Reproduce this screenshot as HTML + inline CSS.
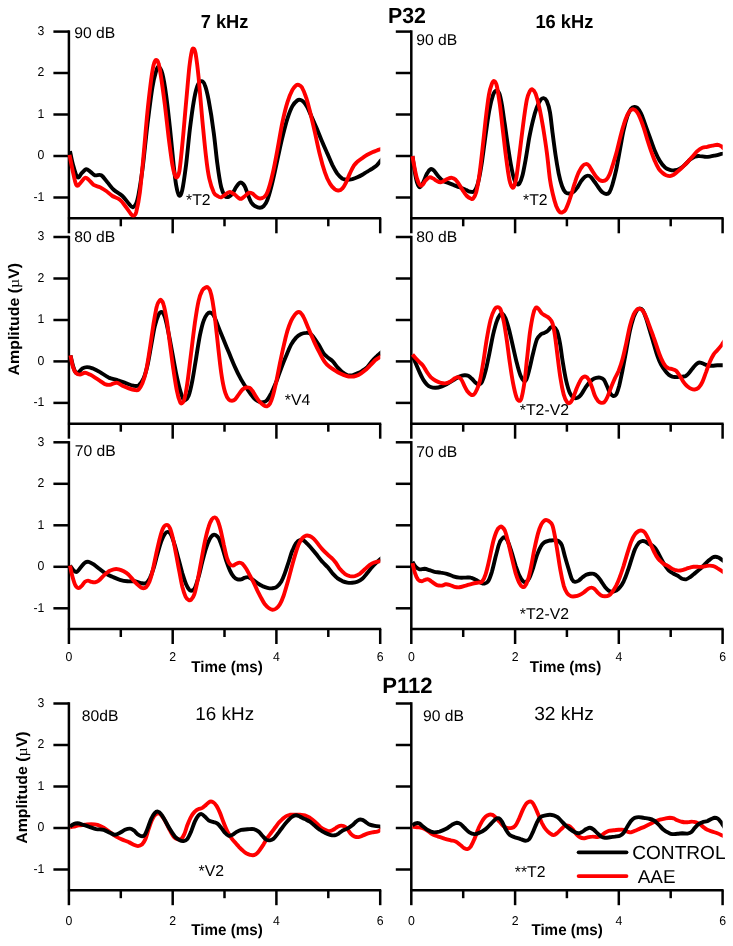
<!DOCTYPE html>
<html><head><meta charset="utf-8"><title>ABR waveforms</title>
<style>html,body{margin:0;padding:0;background:#fff}svg{display:block;will-change:transform}text{text-rendering:geometricPrecision}text{font-family:"Liberation Sans",sans-serif;fill:#000}</style></head><body>
<svg width="733" height="946" viewBox="0 0 733 946">
<rect width="733" height="946" fill="#fff"/>
<g stroke="#000" stroke-width="2.5" fill="none"><path d="M68.9 30.3V233.3"/><path d="M53.4 31.6H68.9"/><path d="M53.4 73.0H68.9"/><path d="M53.4 114.5H68.9"/><path d="M53.4 156.0H68.9"/><path d="M53.4 197.5H68.9"/><path d="M67.9 218.3H381.2"/><path d="M120.8 218.3V226.3"/><path d="M172.7 218.3V233.3"/><path d="M224.5 218.3V226.3"/><path d="M276.4 218.3V233.3"/><path d="M328.3 218.3V226.3"/><path d="M380.2 218.3V233.3"/></g><text transform="translate(44.4 35.0) scale(1 1.04)" font-size="12.3" text-anchor="end">3</text><text transform="translate(44.4 76.4) scale(1 1.04)" font-size="12.3" text-anchor="end">2</text><text transform="translate(44.4 117.9) scale(1 1.04)" font-size="12.3" text-anchor="end">1</text><text transform="translate(44.4 159.4) scale(1 1.04)" font-size="12.3" text-anchor="end">0</text><text transform="translate(44.4 200.9) scale(1 1.04)" font-size="12.3" text-anchor="end">-1</text>
<g stroke="#000" stroke-width="2.5" fill="none"><path d="M68.9 235.8V438.7"/><path d="M53.4 237.0H68.9"/><path d="M53.4 278.5H68.9"/><path d="M53.4 320.0H68.9"/><path d="M53.4 361.4H68.9"/><path d="M53.4 402.9H68.9"/><path d="M67.9 423.7H381.2"/><path d="M120.8 423.7V431.7"/><path d="M172.7 423.7V438.7"/><path d="M224.5 423.7V431.7"/><path d="M276.4 423.7V438.7"/><path d="M328.3 423.7V431.7"/><path d="M380.2 423.7V438.7"/></g><text transform="translate(44.4 240.4) scale(1 1.04)" font-size="12.3" text-anchor="end">3</text><text transform="translate(44.4 281.9) scale(1 1.04)" font-size="12.3" text-anchor="end">2</text><text transform="translate(44.4 323.4) scale(1 1.04)" font-size="12.3" text-anchor="end">1</text><text transform="translate(44.4 364.8) scale(1 1.04)" font-size="12.3" text-anchor="end">0</text><text transform="translate(44.4 406.3) scale(1 1.04)" font-size="12.3" text-anchor="end">-1</text>
<g stroke="#000" stroke-width="2.5" fill="none"><path d="M68.9 441.1V644.0"/><path d="M53.4 442.3H68.9"/><path d="M53.4 483.8H68.9"/><path d="M53.4 525.3H68.9"/><path d="M53.4 566.8H68.9"/><path d="M53.4 608.3H68.9"/><path d="M67.9 629.0H381.2"/><path d="M120.8 629.0V637.0"/><path d="M172.7 629.0V644.0"/><path d="M224.5 629.0V637.0"/><path d="M276.4 629.0V644.0"/><path d="M328.3 629.0V637.0"/><path d="M380.2 629.0V644.0"/></g><text transform="translate(44.4 445.7) scale(1 1.04)" font-size="12.3" text-anchor="end">3</text><text transform="translate(44.4 487.2) scale(1 1.04)" font-size="12.3" text-anchor="end">2</text><text transform="translate(44.4 528.7) scale(1 1.04)" font-size="12.3" text-anchor="end">1</text><text transform="translate(44.4 570.2) scale(1 1.04)" font-size="12.3" text-anchor="end">0</text><text transform="translate(44.4 611.7) scale(1 1.04)" font-size="12.3" text-anchor="end">-1</text><text transform="translate(68.9 660.8) scale(1 1.04)" font-size="12.3" text-anchor="middle">0</text><text transform="translate(172.7 660.8) scale(1 1.04)" font-size="12.3" text-anchor="middle">2</text><text transform="translate(276.4 660.8) scale(1 1.04)" font-size="12.3" text-anchor="middle">4</text><text transform="translate(380.2 660.8) scale(1 1.04)" font-size="12.3" text-anchor="middle">6</text>
<g stroke="#000" stroke-width="2.5" fill="none"><path d="M68.9 702.2V905.2"/><path d="M53.4 703.5H68.9"/><path d="M53.4 745.0H68.9"/><path d="M53.4 786.5H68.9"/><path d="M53.4 828.0H68.9"/><path d="M53.4 869.5H68.9"/><path d="M67.9 890.2H381.2"/><path d="M120.8 890.2V898.2"/><path d="M172.7 890.2V905.2"/><path d="M224.5 890.2V898.2"/><path d="M276.4 890.2V905.2"/><path d="M328.3 890.2V898.2"/><path d="M380.2 890.2V905.2"/></g><text transform="translate(44.4 706.9) scale(1 1.04)" font-size="12.3" text-anchor="end">3</text><text transform="translate(44.4 748.4) scale(1 1.04)" font-size="12.3" text-anchor="end">2</text><text transform="translate(44.4 789.9) scale(1 1.04)" font-size="12.3" text-anchor="end">1</text><text transform="translate(44.4 831.4) scale(1 1.04)" font-size="12.3" text-anchor="end">0</text><text transform="translate(44.4 872.9) scale(1 1.04)" font-size="12.3" text-anchor="end">-1</text><text transform="translate(68.9 924.6) scale(1 1.04)" font-size="12.3" text-anchor="middle">0</text><text transform="translate(172.7 924.6) scale(1 1.04)" font-size="12.3" text-anchor="middle">2</text><text transform="translate(276.4 924.6) scale(1 1.04)" font-size="12.3" text-anchor="middle">4</text><text transform="translate(380.2 924.6) scale(1 1.04)" font-size="12.3" text-anchor="middle">6</text>
<g stroke="#000" stroke-width="2.5" fill="none"><path d="M411.3 30.3V233.3"/><path d="M395.8 31.6H411.3"/><path d="M395.8 73.0H411.3"/><path d="M395.8 114.5H411.3"/><path d="M395.8 156.0H411.3"/><path d="M395.8 197.5H411.3"/><path d="M410.3 218.3H723.6"/><path d="M463.2 218.3V226.3"/><path d="M515.1 218.3V233.3"/><path d="M566.9 218.3V226.3"/><path d="M618.8 218.3V233.3"/><path d="M670.7 218.3V226.3"/><path d="M722.6 218.3V233.3"/></g>
<g stroke="#000" stroke-width="2.5" fill="none"><path d="M411.3 235.8V438.7"/><path d="M395.8 237.0H411.3"/><path d="M395.8 278.5H411.3"/><path d="M395.8 320.0H411.3"/><path d="M395.8 361.4H411.3"/><path d="M395.8 402.9H411.3"/><path d="M410.3 423.7H723.6"/><path d="M463.2 423.7V431.7"/><path d="M515.1 423.7V438.7"/><path d="M566.9 423.7V431.7"/><path d="M618.8 423.7V438.7"/><path d="M670.7 423.7V431.7"/><path d="M722.6 423.7V438.7"/></g>
<g stroke="#000" stroke-width="2.5" fill="none"><path d="M411.3 441.1V644.0"/><path d="M395.8 442.3H411.3"/><path d="M395.8 483.8H411.3"/><path d="M395.8 525.3H411.3"/><path d="M395.8 566.8H411.3"/><path d="M395.8 608.3H411.3"/><path d="M410.3 629.0H723.6"/><path d="M463.2 629.0V637.0"/><path d="M515.1 629.0V644.0"/><path d="M566.9 629.0V637.0"/><path d="M618.8 629.0V644.0"/><path d="M670.7 629.0V637.0"/><path d="M722.6 629.0V644.0"/></g><text transform="translate(411.3 660.8) scale(1 1.04)" font-size="12.3" text-anchor="middle">0</text><text transform="translate(515.1 660.8) scale(1 1.04)" font-size="12.3" text-anchor="middle">2</text><text transform="translate(618.8 660.8) scale(1 1.04)" font-size="12.3" text-anchor="middle">4</text><text transform="translate(722.6 660.8) scale(1 1.04)" font-size="12.3" text-anchor="middle">6</text>
<g stroke="#000" stroke-width="2.5" fill="none"><path d="M411.3 702.2V905.2"/><path d="M395.8 703.5H411.3"/><path d="M395.8 745.0H411.3"/><path d="M395.8 786.5H411.3"/><path d="M395.8 828.0H411.3"/><path d="M395.8 869.5H411.3"/><path d="M410.3 890.2H723.6"/><path d="M463.2 890.2V898.2"/><path d="M515.1 890.2V905.2"/><path d="M566.9 890.2V898.2"/><path d="M618.8 890.2V905.2"/><path d="M670.7 890.2V898.2"/><path d="M722.6 890.2V905.2"/></g><text transform="translate(411.3 924.6) scale(1 1.04)" font-size="12.3" text-anchor="middle">0</text><text transform="translate(515.1 924.6) scale(1 1.04)" font-size="12.3" text-anchor="middle">2</text><text transform="translate(618.8 924.6) scale(1 1.04)" font-size="12.3" text-anchor="middle">4</text><text transform="translate(722.6 924.6) scale(1 1.04)" font-size="12.3" text-anchor="middle">6</text>
<defs><clipPath id="cl"><rect x="0" y="0" width="380.3" height="946"/></clipPath><clipPath id="cr"><rect x="0" y="0" width="722.7" height="946"/></clipPath></defs>
<path d="M70.0 151.1C70.5 153.4 71.7 160.4 73.0 164.8C74.2 169.2 76.0 176.0 77.5 177.3C79.0 178.6 80.5 174.1 82.0 172.8C83.4 171.5 84.8 169.5 86.2 169.3C87.6 169.1 89.0 170.8 90.5 171.8C91.9 172.8 93.2 174.7 95.0 175.3C96.7 175.9 99.1 174.1 101.2 175.3C103.3 176.5 105.4 179.9 107.4 182.3C109.5 184.7 111.2 187.5 113.7 189.8C116.2 192.1 119.9 193.7 122.4 196.0C124.9 198.3 126.9 201.6 128.7 203.5C130.4 205.4 131.5 207.9 132.9 207.3C134.4 206.6 135.8 206.0 137.4 199.8C139.0 193.5 140.7 182.3 142.4 169.8C144.1 157.3 145.7 138.6 147.4 124.9C149.1 111.1 150.9 96.4 152.4 87.4C153.8 78.5 155.1 74.6 156.1 71.2C157.2 67.8 157.6 66.5 158.6 66.9C159.7 67.4 161.1 69.0 162.4 73.7C163.6 78.3 164.9 86.0 166.1 94.9C167.4 103.9 168.6 115.7 169.9 127.4C171.1 139.0 172.6 155.2 173.6 164.8C174.6 174.4 175.2 179.7 176.1 184.8C177.0 189.9 178.1 194.7 179.1 195.5C180.1 196.4 181.2 194.9 182.3 189.8C183.5 184.7 184.8 174.8 186.1 164.8C187.3 154.8 188.6 140.3 189.8 129.9C191.1 119.5 192.3 109.7 193.6 102.4C194.8 95.1 196.1 89.7 197.3 86.2C198.6 82.6 199.8 81.4 201.1 81.2C202.3 81.0 203.6 81.8 204.8 84.9C206.1 88.0 207.1 92.0 208.6 99.9C210.1 107.8 212.3 121.5 213.7 132.4C215.2 143.2 216.2 155.7 217.5 164.8C218.7 174.0 220.0 182.1 221.2 187.3C222.5 192.5 223.7 194.4 225.0 196.0C226.2 197.6 227.5 197.2 228.7 196.8C230.0 196.4 231.3 195.1 232.5 193.5C233.7 192.0 235.0 188.9 236.0 187.3C237.0 185.7 237.7 184.6 238.5 183.8C239.3 183.0 240.0 182.5 240.7 182.5C241.5 182.5 242.2 183.0 243.0 183.8C243.7 184.6 244.4 185.5 245.2 187.3C246.0 189.1 247.0 192.3 248.0 194.8C249.0 197.3 250.0 200.4 251.2 202.3C252.4 204.1 253.5 205.1 254.9 206.0C256.4 206.9 258.5 207.8 259.9 207.8C261.4 207.8 262.4 207.3 263.7 206.0C264.9 204.7 266.0 203.7 267.4 199.8C268.9 195.8 270.8 189.0 272.4 182.3C274.1 175.6 275.8 167.3 277.4 159.8C279.1 152.3 280.7 144.2 282.4 137.4C284.1 130.5 285.7 123.8 287.4 118.6C289.1 113.4 290.7 109.2 292.4 106.1C294.1 103.1 296.1 101.4 297.4 100.4C298.7 99.4 299.3 99.7 300.4 99.9C301.4 100.1 302.5 100.6 303.6 101.9C304.8 103.1 305.9 104.6 307.4 107.4C308.8 110.2 310.7 114.9 312.4 118.6C314.0 122.4 315.7 125.9 317.4 129.9C319.0 133.8 320.7 138.4 322.4 142.3C324.0 146.3 325.7 149.8 327.4 153.6C329.0 157.3 330.7 161.5 332.3 164.8C334.0 168.1 335.7 171.3 337.3 173.6C339.0 175.8 340.7 177.5 342.3 178.6C344.0 179.6 345.7 179.7 347.3 179.8C349.0 179.9 350.7 179.5 352.3 179.1C354.0 178.6 355.7 178.0 357.3 177.3C359.0 176.6 360.6 175.8 362.3 174.8C364.0 173.8 365.6 172.6 367.3 171.6C369.0 170.5 370.6 169.7 372.3 168.6C374.0 167.4 375.9 166.2 377.3 164.8C378.7 163.5 379.7 161.9 380.8 160.6C381.9 159.3 383.3 157.5 383.8 156.9" fill="none" stroke="#000" stroke-width="3.9" stroke-linejoin="round" clip-path="url(#cl)"/>
<path d="M69.5 154.8C70.0 157.3 71.4 164.8 72.5 169.8C73.6 174.8 75.0 182.5 76.2 184.8C77.5 187.1 78.5 184.7 80.0 183.5C81.4 182.4 83.5 178.4 85.0 177.8C86.4 177.2 87.3 178.6 88.7 179.8C90.2 181.0 91.8 183.5 93.7 184.8C95.6 186.0 97.9 186.3 100.0 187.3C102.0 188.3 104.1 189.6 106.2 191.0C108.3 192.5 110.1 194.6 112.4 196.0C114.7 197.5 117.6 197.9 119.9 199.8C122.2 201.6 124.3 204.9 126.2 207.3C128.0 209.7 129.9 212.9 131.2 214.3C132.4 215.6 132.8 215.8 133.7 215.5C134.5 215.2 135.1 216.1 136.2 212.3C137.2 208.4 138.7 201.9 139.9 192.3C141.1 182.7 142.4 168.1 143.6 154.8C144.9 141.5 146.1 124.9 147.4 112.4C148.6 99.9 150.1 87.8 151.1 79.9C152.2 72.0 152.8 68.3 153.6 64.9C154.5 61.6 155.3 60.2 156.1 60.0C157.0 59.7 157.8 60.8 158.6 63.7C159.5 66.6 160.1 70.6 161.1 77.4C162.2 84.3 163.6 94.9 164.9 104.9C166.1 114.9 167.4 127.4 168.6 137.4C169.9 147.3 171.3 158.6 172.4 164.8C173.4 171.1 174.1 172.7 174.9 174.8C175.6 176.9 176.1 177.9 176.9 177.3C177.6 176.7 178.4 176.5 179.4 171.1C180.3 165.7 181.2 156.3 182.3 144.8C183.5 133.4 184.9 115.3 186.1 102.4C187.3 89.5 188.4 76.0 189.3 67.4C190.3 58.9 191.1 54.3 191.8 51.2C192.5 48.1 193.0 48.3 193.6 48.7C194.2 49.1 194.7 48.9 195.6 53.7C196.4 58.5 197.5 66.4 198.6 77.4C199.7 88.5 201.1 106.6 202.3 119.9C203.6 133.2 204.9 147.5 206.1 157.3C207.2 167.1 208.0 172.7 209.3 178.6C210.6 184.4 212.4 189.4 213.7 192.3C215.1 195.2 216.2 195.2 217.5 196.0C218.7 196.9 220.0 197.5 221.2 197.3C222.5 197.1 223.7 195.6 225.0 194.8C226.2 193.9 227.7 192.7 228.7 192.3C229.8 191.9 230.2 191.9 231.2 192.3C232.3 192.7 233.7 193.8 235.0 194.8C236.2 195.7 237.7 197.4 238.7 198.0C239.8 198.7 240.2 199.1 241.2 198.8C242.3 198.4 243.7 197.0 245.0 196.0C246.2 195.0 247.5 193.2 248.7 192.8C250.0 192.4 251.2 192.9 252.4 193.5C253.7 194.2 254.9 195.9 256.2 196.8C257.4 197.6 258.7 198.4 259.9 198.5C261.2 198.6 262.4 198.3 263.7 197.3C264.9 196.2 266.0 196.0 267.4 192.3C268.9 188.5 270.8 181.9 272.4 174.8C274.1 167.7 275.8 158.6 277.4 149.8C279.1 141.1 280.7 130.3 282.4 122.4C284.1 114.5 285.7 107.8 287.4 102.4C289.1 97.0 290.9 92.7 292.4 89.9C293.9 87.1 295.1 86.3 296.1 85.4C297.2 84.6 297.7 84.6 298.6 84.9C299.6 85.3 300.6 85.3 301.9 87.4C303.1 89.5 304.8 93.4 306.1 97.4C307.5 101.4 308.4 105.3 309.9 111.1C311.3 117.0 313.2 125.1 314.9 132.4C316.5 139.6 318.2 148.2 319.9 154.8C321.5 161.5 323.2 167.5 324.9 172.3C326.5 177.1 328.2 180.7 329.9 183.5C331.5 186.4 333.4 188.1 334.8 189.3C336.3 190.5 337.3 190.7 338.6 190.5C339.8 190.4 341.1 189.9 342.3 188.5C343.6 187.2 344.8 184.8 346.1 182.3C347.3 179.8 348.6 176.3 349.8 173.6C351.1 170.9 352.3 168.0 353.6 166.1C354.8 164.1 355.9 163.2 357.3 161.8C358.8 160.5 360.6 159.2 362.3 158.1C364.0 156.9 365.6 155.8 367.3 154.8C369.0 153.9 370.6 153.1 372.3 152.3C374.0 151.6 375.9 150.9 377.3 150.3C378.7 149.8 379.7 149.5 380.8 149.1C381.9 148.7 383.3 148.2 383.8 148.0" fill="none" stroke="#ff0000" stroke-width="3.9" stroke-linejoin="round" clip-path="url(#cl)"/>
<path d="M70.5 355.3C70.9 357.1 72.1 362.9 73.0 365.8C73.9 368.7 75.0 371.8 76.0 372.8C76.9 373.9 77.6 372.8 78.7 372.1C79.8 371.3 81.1 369.2 82.5 368.3C83.8 367.5 85.3 367.1 87.0 367.1C88.6 367.1 90.3 367.5 92.5 368.3C94.6 369.2 97.2 370.5 100.0 372.1C102.7 373.6 105.8 376.2 108.7 377.6C111.6 378.9 114.5 379.1 117.4 380.1C120.3 381.0 123.5 382.3 126.2 383.3C128.9 384.3 131.6 385.5 133.7 385.8C135.7 386.1 137.0 386.5 138.7 385.3C140.3 384.1 142.2 381.6 143.6 378.3C145.1 375.1 146.1 371.2 147.4 365.8C148.6 360.4 149.9 352.5 151.1 345.9C152.4 339.2 153.6 331.1 154.9 325.9C156.1 320.7 157.5 316.9 158.6 314.6C159.8 312.4 160.8 311.7 161.9 312.1C162.9 312.6 163.7 313.6 164.9 317.1C166.0 320.7 167.4 327.3 168.6 333.4C169.9 339.4 171.1 346.7 172.4 353.3C173.6 360.0 174.9 367.3 176.1 373.3C177.4 379.3 178.7 385.3 179.9 389.5C181.0 393.8 182.2 397.0 183.1 398.8C184.0 400.5 184.4 400.5 185.3 400.0C186.3 399.5 187.4 399.0 188.6 395.8C189.8 392.6 191.1 387.0 192.3 380.8C193.6 374.6 194.8 365.8 196.1 358.3C197.3 350.8 198.6 342.1 199.8 335.9C201.1 329.6 202.3 324.5 203.6 320.9C204.8 317.2 206.2 315.3 207.3 313.9C208.5 312.5 209.5 312.4 210.6 312.6C211.6 312.9 212.6 313.4 213.7 315.4C214.9 317.4 216.0 321.0 217.5 324.6C218.9 328.2 220.6 332.5 222.5 337.1C224.4 341.7 226.6 347.1 228.7 352.1C230.8 357.1 232.9 362.5 235.0 367.1C237.0 371.7 239.1 375.8 241.2 379.6C243.3 383.3 245.4 386.5 247.5 389.5C249.5 392.6 251.8 395.8 253.7 397.8C255.6 399.8 257.1 400.8 258.7 401.5C260.2 402.3 261.6 402.5 262.9 402.3C264.3 402.1 265.6 401.8 266.9 400.3C268.3 398.8 269.6 396.3 271.2 393.3C272.7 390.3 274.5 386.2 276.2 382.1C277.8 377.9 279.5 372.7 281.2 368.3C282.8 364.0 284.5 359.8 286.2 355.8C287.8 351.9 289.5 347.6 291.1 344.6C292.8 341.6 294.5 339.4 296.1 337.6C297.8 335.9 299.5 334.9 301.1 334.1C302.8 333.3 304.7 333.0 306.1 332.9C307.6 332.7 308.6 332.7 309.9 333.4C311.1 334.1 312.2 335.2 313.6 337.1C315.1 339.0 316.9 341.9 318.6 344.6C320.3 347.3 322.2 351.3 323.6 353.3C325.1 355.4 325.9 355.8 327.4 357.1C328.8 358.3 330.7 359.2 332.3 360.8C334.0 362.5 335.7 365.2 337.3 367.1C339.0 368.9 340.7 370.7 342.3 372.1C344.0 373.4 345.7 374.5 347.3 375.1C349.0 375.6 350.7 375.6 352.3 375.3C354.0 375.0 355.7 374.1 357.3 373.3C359.0 372.6 360.6 371.9 362.3 370.8C364.0 369.8 365.6 368.7 367.3 367.1C369.0 365.4 370.6 362.7 372.3 360.8C374.0 359.0 375.9 357.2 377.3 355.8C378.7 354.5 379.7 353.8 380.8 352.8C381.9 351.9 383.3 350.7 383.8 350.3" fill="none" stroke="#000" stroke-width="3.9" stroke-linejoin="round" clip-path="url(#cl)"/>
<path d="M70.5 355.3C70.9 357.3 72.0 364.1 73.0 367.1C73.9 370.1 75.1 372.1 76.2 373.3C77.4 374.6 78.5 374.6 80.0 374.6C81.4 374.5 83.3 372.8 85.0 372.8C86.6 372.8 88.3 373.8 90.0 374.6C91.6 375.4 93.3 376.5 95.0 377.6C96.6 378.6 98.3 379.7 100.0 380.8C101.6 381.9 103.3 383.4 104.9 384.1C106.6 384.7 108.5 384.9 109.9 384.8C111.4 384.7 112.4 383.6 113.7 383.3C114.9 383.0 116.0 382.4 117.4 382.8C118.9 383.2 120.5 384.9 122.4 385.8C124.3 386.7 126.6 387.6 128.7 388.3C130.7 389.0 133.2 389.8 134.9 390.0C136.6 390.3 137.4 390.7 138.7 389.5C139.9 388.4 141.1 386.4 142.4 383.3C143.6 380.2 144.9 376.6 146.1 370.8C147.4 365.0 148.6 356.3 149.9 348.3C151.1 340.4 152.5 330.5 153.6 323.4C154.8 316.3 155.9 309.6 156.9 305.9C157.8 302.2 158.7 301.9 159.4 300.9C160.1 299.9 160.4 299.5 161.1 300.2C161.8 300.8 162.7 301.2 163.6 304.7C164.6 308.1 165.8 314.4 166.9 320.9C167.9 327.3 168.7 335.0 169.9 343.4C171.0 351.7 172.4 362.9 173.6 370.8C174.8 378.7 175.8 385.7 176.9 390.8C177.9 395.9 179.0 399.4 179.9 401.5C180.7 403.6 181.1 403.6 181.8 403.3C182.6 402.9 183.4 402.9 184.3 399.5C185.3 396.2 186.2 391.0 187.3 383.3C188.5 375.6 189.8 363.3 191.1 353.3C192.3 343.4 193.6 332.1 194.8 323.4C196.1 314.6 197.3 306.4 198.6 300.9C199.8 295.4 201.1 292.7 202.3 290.4C203.6 288.1 205.2 287.7 206.1 287.2C207.0 286.7 207.2 286.9 207.8 287.4C208.5 288.0 209.2 288.2 210.0 290.4C210.8 292.7 211.7 296.2 212.5 300.9C213.3 305.6 214.2 311.7 215.0 318.4C215.8 325.0 216.7 333.4 217.5 340.9C218.3 348.3 219.2 356.7 220.0 363.3C220.8 370.0 221.6 375.8 222.5 380.8C223.4 385.8 224.4 390.2 225.5 393.3C226.5 396.4 227.6 398.3 228.7 399.5C229.8 400.8 230.9 400.8 232.0 400.8C233.0 400.8 233.8 400.6 235.0 399.5C236.1 398.5 237.5 396.2 238.7 394.5C240.0 392.9 241.2 390.7 242.5 389.5C243.7 388.4 245.0 387.8 246.2 387.5C247.4 387.3 248.4 387.3 249.5 387.8C250.5 388.3 251.3 389.3 252.4 390.8C253.6 392.3 254.9 395.2 256.2 397.0C257.4 398.9 258.7 400.7 259.9 402.0C261.2 403.4 262.5 404.6 263.7 405.3C264.8 406.0 265.9 406.5 266.9 406.3C268.0 406.0 268.9 405.5 269.9 403.8C270.9 402.0 271.9 399.4 272.9 395.8C274.0 392.2 275.0 387.5 276.2 382.1C277.3 376.6 278.7 369.4 279.9 363.3C281.2 357.3 282.4 351.3 283.7 345.9C284.9 340.4 286.2 335.0 287.4 330.9C288.7 326.7 289.9 323.6 291.1 320.9C292.4 318.2 293.8 316.1 294.9 314.6C296.0 313.2 297.0 312.5 297.9 312.1C298.8 311.8 299.4 311.8 300.4 312.6C301.3 313.5 302.5 314.9 303.6 317.1C304.8 319.3 306.1 323.0 307.4 325.9C308.6 328.8 309.9 331.7 311.1 334.6C312.4 337.5 313.4 340.2 314.9 343.4C316.3 346.5 318.2 350.2 319.9 353.3C321.5 356.5 323.2 359.8 324.9 362.1C326.5 364.4 328.2 365.7 329.9 367.1C331.5 368.4 333.2 369.3 334.8 370.3C336.5 371.4 338.0 372.4 339.8 373.3C341.7 374.2 344.2 375.3 346.1 375.8C348.0 376.4 349.4 376.6 351.1 376.6C352.7 376.6 354.4 376.4 356.1 375.8C357.7 375.3 359.4 374.4 361.1 373.3C362.7 372.3 364.4 371.0 366.1 369.6C367.7 368.1 369.4 366.2 371.0 364.6C372.7 362.9 374.4 360.9 376.0 359.6C377.7 358.3 379.5 357.4 380.8 356.6C382.1 355.8 383.3 355.0 383.8 354.7" fill="none" stroke="#ff0000" stroke-width="3.9" stroke-linejoin="round" clip-path="url(#cl)"/>
<path d="M70.0 565.6C70.6 566.4 72.6 569.5 73.7 570.6C74.9 571.6 75.7 572.4 77.0 571.8C78.2 571.2 79.9 568.4 81.2 566.8C82.6 565.3 83.7 563.4 85.0 562.6C86.2 561.8 87.3 561.5 88.7 561.8C90.2 562.1 91.8 563.1 93.7 564.3C95.6 565.6 97.9 567.7 100.0 569.3C102.0 570.9 104.1 572.6 106.2 573.8C108.3 575.1 110.1 575.8 112.4 576.8C114.7 577.8 117.4 579.1 119.9 579.8C122.4 580.6 124.9 581.1 127.4 581.3C129.9 581.6 132.6 581.0 134.9 581.3C137.2 581.6 139.3 582.8 141.1 583.1C143.0 583.4 144.7 583.9 146.1 583.1C147.6 582.2 148.6 580.6 149.9 578.1C151.1 575.6 152.4 572.0 153.6 568.1C154.9 564.1 156.1 558.7 157.4 554.3C158.6 550.0 159.9 545.3 161.1 541.9C162.4 538.5 163.7 535.5 164.9 533.9C166.0 532.2 166.8 531.7 167.9 531.9C168.9 532.0 169.9 532.6 171.1 534.9C172.3 537.2 173.6 541.5 174.9 545.6C176.1 549.7 177.4 554.8 178.6 559.3C179.9 563.9 181.1 568.9 182.3 573.1C183.6 577.2 184.9 581.5 186.1 584.3C187.3 587.1 188.4 588.8 189.3 589.8C190.3 590.8 190.9 590.8 191.8 590.6C192.8 590.3 193.7 590.3 194.8 588.1C196.0 585.8 197.3 581.2 198.6 576.8C199.8 572.4 201.1 566.6 202.3 561.8C203.6 557.1 204.8 551.9 206.1 548.1C207.3 544.3 208.7 541.0 209.8 538.9C210.9 536.7 211.9 535.8 212.8 535.1C213.7 534.5 214.3 534.4 215.3 534.9C216.3 535.4 217.5 535.9 218.7 538.1C219.9 540.3 221.2 544.4 222.5 548.1C223.7 551.9 225.0 556.8 226.2 560.6C227.5 564.3 228.7 567.9 230.0 570.6C231.2 573.3 232.5 575.4 233.7 576.8C235.0 578.3 236.2 578.9 237.5 579.3C238.7 579.7 240.0 579.6 241.2 579.3C242.5 579.0 243.7 577.9 245.0 577.6C246.2 577.2 247.5 577.0 248.7 577.3C250.0 577.6 251.0 578.4 252.4 579.3C253.9 580.3 255.8 581.9 257.4 583.1C259.1 584.2 260.8 585.3 262.4 586.1C264.1 586.8 265.8 587.4 267.4 587.8C269.1 588.2 270.8 588.5 272.4 588.3C274.0 588.1 275.5 587.9 276.9 586.8C278.4 585.7 279.8 584.1 281.2 581.8C282.5 579.5 283.7 576.4 284.9 573.1C286.2 569.7 287.4 565.6 288.7 561.8C289.9 558.1 291.1 553.7 292.4 550.6C293.6 547.5 294.9 544.9 296.1 543.1C297.4 541.4 298.6 540.5 299.9 540.1C301.1 539.7 302.4 540.0 303.6 540.6C304.9 541.2 305.9 542.4 307.4 543.9C308.8 545.3 310.7 547.4 312.4 549.4C314.0 551.3 315.7 553.5 317.4 555.6C319.0 557.7 320.7 560.0 322.4 561.8C324.0 563.7 325.7 565.0 327.4 566.8C329.0 568.7 330.7 571.2 332.3 573.1C334.0 574.9 335.7 576.7 337.3 578.1C339.0 579.4 340.7 580.3 342.3 581.1C344.0 581.8 345.7 582.3 347.3 582.6C349.0 582.9 350.7 582.9 352.3 582.8C354.0 582.7 355.7 582.5 357.3 581.8C359.0 581.1 360.6 580.3 362.3 578.8C364.0 577.4 365.6 575.1 367.3 573.1C369.0 571.1 370.6 568.7 372.3 566.8C374.0 565.0 375.9 563.2 377.3 561.8C378.7 560.5 379.7 559.8 380.8 558.8C381.9 557.9 383.3 556.7 383.8 556.3" fill="none" stroke="#000" stroke-width="3.9" stroke-linejoin="round" clip-path="url(#cl)"/>
<path d="M70.0 565.6C70.4 567.5 71.6 573.5 72.5 576.8C73.4 580.1 74.4 583.7 75.5 585.6C76.5 587.4 77.6 588.1 78.7 588.1C79.8 588.1 80.9 586.6 82.0 585.6C83.0 584.5 84.0 582.6 85.0 581.8C86.0 581.0 86.9 580.6 88.0 580.6C89.0 580.6 90.0 581.5 91.2 581.8C92.4 582.1 93.7 582.5 95.0 582.3C96.2 582.1 97.2 581.7 98.7 580.6C100.2 579.4 102.0 577.1 103.7 575.6C105.4 574.0 107.0 572.4 108.7 571.3C110.4 570.3 112.0 569.7 113.7 569.3C115.3 569.0 117.0 569.0 118.7 569.3C120.3 569.7 122.0 570.4 123.7 571.3C125.3 572.2 127.0 573.3 128.7 574.8C130.3 576.4 132.0 578.8 133.7 580.6C135.3 582.4 137.2 584.3 138.7 585.6C140.1 586.8 141.1 587.8 142.4 588.1C143.6 588.3 145.0 588.3 146.1 587.3C147.3 586.3 148.3 584.4 149.4 581.8C150.4 579.2 151.3 576.4 152.4 571.8C153.5 567.2 154.9 560.0 156.1 554.3C157.4 548.7 158.7 542.5 159.9 538.1C161.0 533.7 162.0 530.3 163.1 528.1C164.3 525.9 165.7 524.9 166.9 524.9C168.0 524.9 168.9 525.9 169.9 528.1C170.9 530.3 171.8 533.7 172.9 538.1C173.9 542.5 175.0 548.7 176.1 554.3C177.2 560.0 178.3 566.4 179.4 571.8C180.4 577.2 181.3 582.6 182.3 586.8C183.4 591.0 184.6 594.6 185.6 596.8C186.6 599.0 187.7 599.5 188.6 600.0C189.5 600.5 190.1 600.7 191.1 599.8C192.0 598.8 193.3 597.3 194.3 594.3C195.4 591.3 196.2 587.2 197.3 581.8C198.5 576.4 199.8 568.5 201.1 561.8C202.3 555.2 203.6 547.7 204.8 541.9C206.1 536.0 207.4 530.6 208.6 526.9C209.7 523.1 210.8 521.0 211.8 519.4C212.9 517.8 213.9 517.3 214.8 517.4C215.8 517.5 216.5 518.1 217.5 520.1C218.4 522.1 219.4 525.3 220.5 529.4C221.5 533.4 222.7 539.6 223.7 544.4C224.8 549.1 225.9 554.8 227.0 558.1C228.0 561.4 229.0 563.1 230.0 564.3C231.0 565.6 231.9 565.7 233.0 565.6C234.0 565.5 235.1 564.3 236.2 563.8C237.3 563.3 238.4 562.6 239.5 562.6C240.5 562.6 241.3 562.8 242.5 563.8C243.6 564.9 245.0 566.9 246.2 568.8C247.5 570.8 248.7 573.3 250.0 575.6C251.2 577.9 252.4 580.1 253.7 582.6C254.9 585.1 256.2 588.0 257.4 590.6C258.7 593.1 259.9 595.8 261.2 598.0C262.4 600.3 263.7 602.6 264.9 604.3C266.2 605.9 267.4 607.1 268.7 608.0C269.9 608.9 271.2 609.7 272.4 609.8C273.7 609.9 274.9 609.4 276.2 608.5C277.4 607.6 278.7 606.4 279.9 604.3C281.2 602.1 282.4 599.1 283.7 595.5C284.9 592.0 286.2 587.4 287.4 583.1C288.7 578.7 289.9 573.9 291.1 569.3C292.4 564.8 293.6 559.8 294.9 555.6C296.1 551.4 297.4 547.3 298.6 544.4C299.9 541.4 301.1 539.6 302.4 538.1C303.6 536.7 304.9 536.0 306.1 535.6C307.4 535.3 308.6 535.6 309.9 536.1C311.1 536.6 312.4 537.5 313.6 538.6C314.9 539.8 315.9 541.3 317.4 543.1C318.8 544.9 320.7 547.5 322.4 549.4C324.0 551.2 325.7 552.8 327.4 554.3C329.0 555.9 330.9 557.1 332.3 558.6C333.8 560.0 334.8 561.4 336.1 563.1C337.3 564.8 338.4 567.0 339.8 568.8C341.3 570.6 343.2 572.6 344.8 573.8C346.5 575.0 348.2 575.7 349.8 576.1C351.5 576.4 353.2 576.4 354.8 576.1C356.5 575.7 358.1 574.9 359.8 573.8C361.5 572.7 363.1 570.8 364.8 569.3C366.5 567.8 368.1 566.0 369.8 564.8C371.5 563.7 373.0 563.0 374.8 562.3C376.6 561.7 379.3 561.4 380.8 561.1C382.3 560.8 383.3 560.6 383.8 560.5" fill="none" stroke="#ff0000" stroke-width="3.9" stroke-linejoin="round" clip-path="url(#cl)"/>
<path d="M70.0 827.3C70.6 827.2 72.3 826.9 73.7 826.6C75.2 826.3 76.9 825.6 78.7 825.3C80.6 825.0 82.9 825.0 85.0 824.8C87.0 824.6 89.1 824.1 91.2 824.1C93.3 824.1 95.4 824.2 97.5 824.8C99.5 825.5 101.6 826.6 103.7 827.8C105.8 829.0 107.9 830.6 109.9 832.1C112.0 833.5 114.1 835.3 116.2 836.6C118.3 837.8 120.3 838.7 122.4 839.6C124.5 840.5 126.8 841.2 128.7 842.1C130.5 842.9 132.1 844.1 133.7 844.8C135.2 845.5 136.5 846.1 137.9 846.1C139.3 846.0 140.6 845.7 141.9 844.6C143.1 843.4 144.3 841.6 145.4 839.1C146.5 836.5 147.5 832.4 148.6 829.1C149.8 825.8 151.1 821.6 152.4 819.1C153.6 816.6 155.0 815.0 156.1 814.1C157.3 813.2 158.3 813.2 159.4 813.6C160.4 814.0 161.2 815.1 162.4 816.6C163.5 818.1 164.9 820.5 166.1 822.8C167.4 825.1 168.6 828.0 169.9 830.3C171.1 832.6 172.4 835.1 173.6 836.6C174.9 838.0 176.1 838.7 177.4 839.1C178.6 839.5 179.9 839.9 181.1 839.1C182.3 838.2 183.3 836.4 184.3 834.1C185.4 831.8 186.2 828.2 187.3 825.3C188.5 822.4 189.8 818.9 191.1 816.6C192.3 814.3 193.6 812.9 194.8 811.6C196.1 810.4 197.3 809.7 198.6 809.1C199.8 808.5 201.1 808.6 202.3 807.9C203.6 807.1 204.8 805.9 206.1 804.9C207.3 803.8 208.8 802.1 210.0 801.6C211.2 801.2 212.0 801.5 213.0 802.1C214.0 802.7 215.1 803.6 216.2 805.4C217.4 807.1 218.7 809.9 220.0 812.9C221.2 815.8 222.5 819.7 223.7 822.8C225.0 826.0 226.2 829.1 227.5 831.6C228.7 834.1 230.0 836.0 231.2 837.8C232.5 839.6 233.7 840.9 235.0 842.3C236.2 843.8 237.5 845.2 238.7 846.6C240.0 847.9 241.2 849.2 242.5 850.3C243.7 851.4 245.0 852.6 246.2 853.3C247.5 854.0 248.8 854.5 250.0 854.8C251.1 855.1 251.9 855.4 252.9 855.3C254.0 855.2 255.0 855.0 256.2 854.0C257.4 853.1 258.7 851.5 259.9 849.8C261.2 848.1 262.4 846.1 263.7 844.1C264.9 842.1 266.2 839.7 267.4 837.8C268.7 835.9 269.9 834.5 271.2 832.8C272.4 831.2 273.7 829.5 274.9 827.8C276.2 826.2 277.4 824.3 278.7 822.8C279.9 821.4 281.2 820.2 282.4 819.1C283.7 818.0 284.9 816.8 286.2 816.1C287.4 815.4 288.4 815.1 289.9 814.8C291.4 814.6 293.2 814.6 294.9 814.6C296.6 814.6 298.2 814.7 299.9 814.8C301.6 815.0 303.2 814.8 304.9 815.3C306.5 815.8 308.2 816.8 309.9 817.8C311.5 818.9 313.2 820.1 314.9 821.6C316.5 823.0 318.2 825.2 319.9 826.6C321.5 828.0 323.4 829.1 324.9 829.8C326.3 830.6 327.4 831.0 328.6 831.1C329.9 831.2 331.1 830.9 332.3 830.3C333.6 829.8 334.8 828.6 336.1 827.8C337.3 827.1 338.6 826.1 339.8 825.8C341.1 825.5 342.3 825.5 343.6 826.1C344.8 826.6 346.1 827.7 347.3 829.1C348.6 830.4 349.8 832.8 351.1 834.1C352.3 835.3 353.6 836.1 354.8 836.6C356.1 837.1 357.3 837.2 358.6 837.1C359.8 836.9 360.9 836.4 362.3 835.8C363.8 835.2 365.6 834.2 367.3 833.6C369.0 833.0 370.6 832.7 372.3 832.3C374.0 832.0 375.9 832.0 377.3 831.6C378.7 831.2 379.7 830.4 380.8 829.8C381.9 829.3 383.3 828.6 383.8 828.3" fill="none" stroke="#ff0000" stroke-width="3.9" stroke-linejoin="round" clip-path="url(#cl)"/>
<path d="M70.0 826.6C70.6 826.2 72.5 824.6 73.7 824.1C75.0 823.5 76.0 823.3 77.5 823.3C78.9 823.4 80.6 824.0 82.5 824.6C84.3 825.1 86.4 825.8 88.7 826.6C91.0 827.3 93.7 828.5 96.2 829.1C98.7 829.6 101.4 829.2 103.7 829.8C106.0 830.5 108.1 832.0 109.9 832.8C111.8 833.7 113.3 834.8 114.9 834.8C116.6 834.8 118.3 833.7 119.9 832.8C121.6 832.0 123.3 830.5 124.9 829.8C126.6 829.1 128.5 828.5 129.9 828.6C131.4 828.7 132.4 829.4 133.7 830.3C134.9 831.2 136.2 833.1 137.4 834.1C138.7 835.0 140.0 835.9 141.1 836.1C142.3 836.3 143.4 836.5 144.4 835.3C145.4 834.2 146.3 831.8 147.4 829.1C148.5 826.4 149.9 821.8 151.1 819.1C152.4 816.4 153.8 814.1 154.9 812.9C156.0 811.6 156.8 811.4 157.9 811.6C158.9 811.8 160.0 812.6 161.1 814.1C162.3 815.6 163.4 817.8 164.9 820.3C166.3 822.8 168.2 826.4 169.9 829.1C171.5 831.8 173.2 834.7 174.9 836.6C176.5 838.4 178.4 839.6 179.9 840.3C181.3 841.1 182.3 841.3 183.6 841.1C184.8 840.9 186.1 840.6 187.3 839.1C188.6 837.5 189.8 834.5 191.1 831.6C192.3 828.7 193.6 824.3 194.8 821.6C196.1 818.9 197.5 816.6 198.6 815.3C199.7 814.1 200.5 813.9 201.6 814.1C202.6 814.3 203.7 815.6 204.8 816.6C206.0 817.6 207.1 819.4 208.6 820.3C210.1 821.3 212.3 821.5 213.7 822.1C215.2 822.6 216.2 822.6 217.5 823.6C218.7 824.5 220.0 826.3 221.2 827.8C222.5 829.4 223.7 831.5 225.0 832.8C226.2 834.2 227.5 835.5 228.7 835.8C230.0 836.2 231.2 835.4 232.5 834.8C233.7 834.2 234.8 832.9 236.2 832.1C237.7 831.2 239.3 830.3 241.2 829.8C243.1 829.4 245.4 829.5 247.5 829.3C249.5 829.2 251.8 828.7 253.7 829.1C255.6 829.5 257.2 830.5 258.7 831.6C260.1 832.7 261.2 834.5 262.4 835.8C263.7 837.2 264.9 838.8 266.2 839.6C267.4 840.3 268.7 840.5 269.9 840.3C271.2 840.1 272.4 839.6 273.7 838.6C274.9 837.5 276.2 835.7 277.4 834.1C278.7 832.5 279.9 830.7 281.2 829.1C282.4 827.4 283.7 825.6 284.9 824.1C286.2 822.5 287.4 821.1 288.7 819.8C289.9 818.6 291.1 817.3 292.4 816.6C293.6 815.8 294.9 815.3 296.1 815.3C297.4 815.3 298.4 816.0 299.9 816.6C301.3 817.2 303.2 818.3 304.9 819.1C306.5 819.9 308.2 820.5 309.9 821.6C311.5 822.7 313.2 824.5 314.9 825.8C316.5 827.2 318.2 828.7 319.9 829.8C321.5 831.0 323.2 832.0 324.9 832.8C326.5 833.7 328.2 834.4 329.9 834.8C331.5 835.2 333.4 835.5 334.8 835.3C336.3 835.1 337.3 834.3 338.6 833.6C339.8 832.8 340.9 831.7 342.3 830.8C343.8 830.0 345.7 829.5 347.3 828.6C349.0 827.7 350.9 826.5 352.3 825.3C353.8 824.2 354.9 822.5 356.1 821.6C357.2 820.6 358.3 819.9 359.3 819.6C360.4 819.3 361.2 819.4 362.3 819.8C363.4 820.3 364.8 821.5 366.1 822.3C367.3 823.1 368.3 824.0 369.8 824.6C371.3 825.2 373.0 825.5 374.8 825.8C376.6 826.2 379.3 826.4 380.8 826.6C382.3 826.8 383.3 826.9 383.8 827.0" fill="none" stroke="#000" stroke-width="3.9" stroke-linejoin="round" clip-path="url(#cl)"/>
<path d="M412.5 156.1C412.8 158.4 413.7 165.4 414.5 169.8C415.2 174.2 416.1 179.4 417.0 182.3C417.9 185.2 418.9 187.3 420.0 187.3C421.0 187.3 422.1 184.6 423.2 182.3C424.4 180.0 425.7 175.8 427.0 173.6C428.2 171.4 429.5 169.6 430.7 169.1C431.9 168.6 432.7 169.4 434.0 170.6C435.2 171.7 436.7 174.3 438.2 176.1C439.7 177.8 441.5 179.9 443.2 181.0C444.9 182.2 446.5 182.2 448.2 182.8C449.9 183.4 451.3 184.0 453.2 184.8C455.1 185.5 457.3 186.5 459.4 187.3C461.5 188.1 463.8 189.0 465.7 189.8C467.5 190.5 469.2 191.6 470.7 191.8C472.1 192.0 473.2 192.6 474.4 191.0C475.7 189.5 476.9 187.1 478.2 182.3C479.4 177.5 480.7 170.2 481.9 162.3C483.1 154.4 484.4 143.6 485.6 134.9C486.9 126.1 488.1 116.5 489.4 109.9C490.6 103.2 492.0 98.1 493.1 94.9C494.3 91.7 495.3 90.9 496.4 90.7C497.4 90.5 498.5 91.3 499.4 93.7C500.3 96.0 501.0 99.7 501.9 104.9C502.8 110.1 503.8 117.8 504.9 124.9C505.9 131.9 507.0 140.3 508.1 147.3C509.2 154.4 510.3 161.9 511.4 167.3C512.4 172.7 513.4 177.0 514.4 179.8C515.3 182.6 516.0 183.4 516.9 184.0C517.7 184.7 518.4 184.9 519.4 183.5C520.3 182.2 521.3 180.0 522.3 176.1C523.4 172.1 524.4 166.3 525.6 159.8C526.8 153.4 528.1 144.0 529.3 137.4C530.6 130.7 531.8 124.9 533.1 119.9C534.3 114.9 535.6 110.7 536.8 107.4C538.1 104.1 539.5 101.4 540.6 99.9C541.7 98.4 542.5 97.9 543.6 98.2C544.6 98.4 545.7 98.8 546.8 101.1C547.9 103.5 549.1 107.2 550.0 112.4C550.9 117.6 551.6 125.3 552.5 132.4C553.4 139.4 554.5 148.0 555.5 154.8C556.5 161.7 557.7 168.4 558.7 173.6C559.8 178.8 560.9 182.9 562.0 186.0C563.1 189.2 564.2 191.0 565.5 192.3C566.7 193.5 568.1 193.6 569.5 193.5C570.8 193.4 572.4 192.8 573.7 191.8C575.1 190.7 576.2 189.1 577.5 187.3C578.7 185.5 580.0 182.8 581.2 181.0C582.5 179.3 583.8 177.7 585.0 176.8C586.1 175.9 587.2 175.5 588.2 175.6C589.2 175.6 590.1 176.2 591.2 177.3C592.3 178.4 593.7 180.5 594.9 182.3C596.2 184.0 597.4 186.1 598.7 187.8C599.9 189.5 601.2 191.2 602.4 192.3C603.7 193.3 605.0 194.0 606.2 194.0C607.3 194.0 608.4 193.8 609.4 192.3C610.5 190.7 611.3 188.5 612.4 184.8C613.5 181.0 614.9 175.6 616.2 169.8C617.4 164.0 618.7 156.5 619.9 149.8C621.2 143.2 622.4 135.5 623.7 129.9C624.9 124.2 626.2 119.7 627.4 116.1C628.7 112.6 630.0 110.2 631.1 108.6C632.3 107.1 633.4 107.0 634.4 106.9C635.4 106.8 636.3 106.8 637.4 107.9C638.5 109.0 639.9 111.0 641.1 113.6C642.4 116.3 643.4 119.7 644.9 123.6C646.3 127.6 648.2 132.8 649.9 137.4C651.5 141.9 653.2 147.1 654.9 151.1C656.5 155.0 658.2 158.4 659.9 161.1C661.5 163.8 663.2 165.9 664.9 167.3C666.5 168.8 668.2 169.3 669.9 169.8C671.5 170.3 673.2 170.5 674.8 170.3C676.5 170.1 678.2 169.5 679.8 168.6C681.5 167.6 683.2 166.3 684.8 164.8C686.5 163.4 688.2 161.2 689.8 159.8C691.5 158.5 693.2 157.2 694.8 156.6C696.5 156.0 698.1 156.0 699.8 156.1C701.5 156.1 703.1 156.7 704.8 156.8C706.5 156.9 708.1 156.8 709.8 156.6C711.5 156.4 713.1 156.0 714.8 155.6C716.5 155.2 718.4 154.7 719.8 154.3C721.2 154.0 722.0 153.8 723.0 153.6C724.1 153.3 725.5 153.0 726.0 152.9" fill="none" stroke="#000" stroke-width="3.9" stroke-linejoin="round" clip-path="url(#cr)"/>
<path d="M412.5 156.1C412.8 158.0 413.7 163.6 414.5 167.3C415.2 171.1 416.1 175.6 417.0 178.6C417.9 181.5 419.1 184.3 420.0 185.3C420.9 186.3 421.5 185.6 422.5 184.8C423.4 184.0 424.6 181.5 425.7 180.3C426.9 179.1 428.2 177.6 429.5 177.3C430.7 177.0 432.0 177.9 433.2 178.6C434.5 179.2 435.7 180.4 437.0 181.0C438.2 181.7 439.5 182.4 440.7 182.3C442.0 182.2 443.2 181.2 444.4 180.5C445.7 179.9 446.9 179.0 448.2 178.6C449.4 178.1 450.7 177.6 451.9 177.8C453.2 178.0 454.4 178.6 455.7 179.8C456.9 181.0 458.2 182.9 459.4 184.8C460.7 186.7 461.9 189.2 463.2 191.0C464.4 192.9 465.7 194.8 466.9 196.0C468.2 197.3 469.6 198.1 470.7 198.5C471.7 198.9 472.2 199.6 473.2 198.5C474.1 197.5 475.1 196.2 476.2 192.3C477.2 188.3 478.4 181.9 479.4 174.8C480.4 167.7 481.4 159.0 482.4 149.8C483.4 140.7 484.6 129.0 485.6 119.9C486.7 110.7 487.9 100.9 488.9 94.9C489.9 88.9 491.0 86.0 491.9 83.7C492.8 81.4 493.6 80.8 494.4 81.2C495.2 81.6 496.0 82.2 496.9 86.2C497.8 90.1 498.8 97.2 499.9 104.9C500.9 112.6 502.0 123.2 503.1 132.4C504.2 141.5 505.3 151.9 506.4 159.8C507.4 167.7 508.5 175.3 509.4 179.8C510.3 184.3 511.1 185.6 511.9 186.8C512.6 188.0 513.1 188.4 513.9 186.8C514.6 185.2 515.4 182.6 516.4 177.3C517.3 172.0 518.2 163.6 519.4 154.8C520.5 146.1 521.9 134.0 523.1 124.9C524.3 115.7 525.7 105.5 526.8 99.9C528.0 94.3 528.9 92.9 529.8 91.2C530.8 89.4 531.4 89.0 532.3 89.4C533.3 89.8 534.4 90.7 535.6 93.7C536.7 96.7 538.1 101.8 539.3 107.4C540.6 113.0 541.8 119.9 543.1 127.4C544.3 134.9 545.7 143.6 546.8 152.3C548.0 161.1 549.0 172.7 550.0 179.8C551.0 186.9 552.0 190.4 553.0 194.8C554.0 199.2 555.2 203.2 556.2 206.0C557.3 208.8 558.4 210.7 559.5 211.8C560.5 212.8 561.5 212.6 562.5 212.3C563.5 211.9 564.4 211.4 565.5 209.8C566.5 208.1 567.6 205.2 568.7 202.3C569.8 199.4 570.9 195.6 572.0 192.3C573.0 189.0 573.8 185.6 575.0 182.3C576.1 179.0 577.5 175.0 578.7 172.3C580.0 169.6 581.3 167.4 582.5 166.1C583.6 164.7 584.7 164.2 585.7 164.1C586.7 163.9 587.6 164.2 588.7 165.3C589.8 166.5 591.2 169.1 592.4 171.1C593.7 173.0 594.9 175.3 596.2 176.8C597.4 178.3 598.8 179.6 599.9 180.3C601.1 181.0 601.9 181.1 602.9 181.0C604.0 181.0 605.1 180.8 606.2 179.8C607.3 178.8 608.4 177.1 609.4 174.8C610.5 172.5 611.3 169.6 612.4 166.1C613.5 162.5 614.9 158.2 616.2 153.6C617.4 149.0 618.7 143.4 619.9 138.6C621.2 133.8 622.4 128.8 623.7 124.9C624.9 120.9 626.3 117.3 627.4 114.9C628.5 112.5 629.4 111.3 630.4 110.4C631.4 109.5 632.6 109.1 633.6 109.4C634.7 109.6 635.9 110.6 636.9 111.9C637.9 113.2 638.8 114.8 639.9 117.4C641.0 120.0 642.4 123.6 643.6 127.4C644.9 131.1 646.1 135.9 647.4 139.9C648.6 143.8 649.9 147.5 651.1 151.1C652.4 154.6 653.6 158.2 654.9 161.1C656.1 164.0 657.4 166.6 658.6 168.6C659.9 170.5 661.1 171.7 662.4 172.8C663.6 173.9 664.9 174.8 666.1 175.3C667.4 175.8 668.6 176.1 669.9 176.1C671.1 176.0 672.3 175.5 673.6 174.8C674.8 174.1 675.9 173.1 677.3 171.8C678.8 170.6 680.7 168.9 682.3 167.3C684.0 165.7 685.7 164.1 687.3 162.3C689.0 160.6 690.7 158.7 692.3 156.8C694.0 155.0 695.7 152.6 697.3 151.1C699.0 149.6 700.6 148.5 702.3 147.8C704.0 147.1 705.6 147.2 707.3 146.8C709.0 146.5 710.6 145.9 712.3 145.6C714.0 145.3 715.8 144.8 717.3 144.8C718.7 144.9 720.1 145.6 721.0 146.1C722.0 146.6 722.2 147.1 723.0 147.8C723.9 148.6 725.5 150.0 726.0 150.5" fill="none" stroke="#ff0000" stroke-width="3.9" stroke-linejoin="round" clip-path="url(#cr)"/>
<path d="M412.5 355.8C413.0 357.1 414.6 360.6 415.7 363.3C416.9 366.0 418.2 369.4 419.5 372.1C420.7 374.8 422.0 377.5 423.2 379.6C424.5 381.6 425.7 383.3 427.0 384.6C428.2 385.8 429.3 386.5 430.7 387.0C432.2 387.6 433.8 387.9 435.7 387.8C437.6 387.7 439.9 387.0 442.0 386.3C444.0 385.6 446.1 384.4 448.2 383.3C450.3 382.2 452.6 380.7 454.4 379.6C456.3 378.4 457.8 377.3 459.4 376.6C461.1 375.9 463.0 375.4 464.4 375.3C465.9 375.2 466.9 375.2 468.2 375.8C469.4 376.4 470.7 377.6 471.9 378.8C473.2 380.0 474.5 381.8 475.7 382.8C476.8 383.8 477.9 384.7 478.9 384.6C479.9 384.4 480.8 384.3 481.9 382.1C483.0 379.8 484.4 375.6 485.6 370.8C486.9 366.0 488.1 359.4 489.4 353.3C490.6 347.3 491.9 340.0 493.1 334.6C494.4 329.2 495.7 324.2 496.9 320.9C498.0 317.6 499.2 315.8 500.1 314.6C501.1 313.5 501.7 313.3 502.6 313.9C503.5 314.5 504.5 315.6 505.6 318.4C506.7 321.2 508.1 326.1 509.4 330.9C510.6 335.7 511.9 341.7 513.1 347.1C514.4 352.5 515.6 358.5 516.9 363.3C518.1 368.1 519.4 372.9 520.6 375.8C521.8 378.7 522.9 380.2 523.8 380.8C524.8 381.4 525.4 381.4 526.3 379.6C527.3 377.7 528.2 373.9 529.3 369.6C530.5 365.2 531.8 358.3 533.1 353.3C534.3 348.3 535.6 342.7 536.8 339.6C538.1 336.5 539.3 335.7 540.6 334.6C541.8 333.5 543.1 333.6 544.3 332.9C545.6 332.2 547.0 331.3 548.1 330.4C549.1 329.5 549.9 328.0 550.8 327.4C551.8 326.8 552.7 326.3 553.7 326.9C554.8 327.5 556.0 328.1 557.0 330.9C558.0 333.6 559.0 337.9 560.0 343.4C561.0 348.8 561.9 357.1 563.0 363.3C564.0 369.6 565.1 375.8 566.2 380.8C567.4 385.8 568.7 390.5 570.0 393.3C571.2 396.1 572.5 397.0 573.7 397.8C575.0 398.5 576.2 398.3 577.5 397.8C578.7 397.2 580.0 396.1 581.2 394.5C582.5 393.0 583.7 390.2 585.0 388.3C586.2 386.4 587.5 384.8 588.7 383.3C590.0 381.8 591.2 380.5 592.4 379.6C593.7 378.6 594.9 378.1 596.2 377.8C597.4 377.5 598.7 377.3 599.9 377.6C601.2 377.9 602.5 378.2 603.7 379.6C604.8 380.9 605.9 383.6 606.9 385.8C608.0 388.0 608.9 391.1 609.9 392.8C610.9 394.5 611.9 395.5 612.9 395.8C614.0 396.1 615.1 396.2 616.2 394.5C617.2 392.9 618.1 389.8 619.2 385.8C620.2 381.8 621.2 376.6 622.4 370.8C623.6 365.0 624.9 357.5 626.2 350.8C627.4 344.2 628.7 336.5 629.9 330.9C631.1 325.3 632.5 320.5 633.6 317.1C634.8 313.7 635.9 311.9 636.9 310.4C637.9 308.9 638.9 308.4 639.9 308.4C640.9 308.4 641.8 308.7 642.9 310.4C643.9 312.1 645.0 315.0 646.1 318.4C647.3 321.8 648.6 326.7 649.9 330.9C651.1 335.0 652.4 339.2 653.6 343.4C654.9 347.5 656.1 352.3 657.4 355.8C658.6 359.4 659.9 362.2 661.1 364.6C662.4 367.0 663.6 368.7 664.9 370.3C666.1 372.0 667.4 373.5 668.6 374.6C669.9 375.6 670.9 376.1 672.3 376.6C673.8 377.0 675.7 377.1 677.3 377.1C679.0 377.1 680.9 376.8 682.3 376.6C683.8 376.4 684.8 376.6 686.1 375.8C687.3 375.1 688.6 373.5 689.8 372.1C691.1 370.6 692.3 368.5 693.6 367.1C694.8 365.6 696.2 364.1 697.3 363.3C698.4 362.6 699.3 362.5 700.3 362.6C701.4 362.7 702.4 363.4 703.6 363.8C704.7 364.3 705.8 365.0 707.3 365.3C708.8 365.7 710.6 365.8 712.3 365.8C714.0 365.8 715.5 365.4 717.3 365.3C719.1 365.2 721.6 365.3 723.0 365.3C724.5 365.3 725.5 365.3 726.0 365.3" fill="none" stroke="#000" stroke-width="3.9" stroke-linejoin="round" clip-path="url(#cr)"/>
<path d="M412.5 354.6C413.0 355.2 414.6 357.1 415.7 358.3C416.9 359.6 418.2 360.8 419.5 362.1C420.7 363.3 422.0 364.2 423.2 365.8C424.5 367.5 425.7 370.2 427.0 372.1C428.2 373.9 429.3 375.6 430.7 377.1C432.2 378.5 434.0 379.8 435.7 380.8C437.4 381.8 439.0 382.4 440.7 382.8C442.4 383.2 444.0 383.6 445.7 383.3C447.4 383.1 449.1 382.1 450.7 381.3C452.2 380.5 453.7 379.0 454.9 378.3C456.2 377.6 457.1 376.9 458.2 377.1C459.3 377.3 460.4 378.1 461.4 379.6C462.5 381.0 463.4 383.8 464.4 385.8C465.4 387.8 466.4 389.8 467.4 391.3C468.5 392.7 469.6 394.0 470.7 394.5C471.7 395.1 472.9 395.4 473.9 394.5C475.0 393.7 475.9 391.8 476.9 389.5C477.9 387.3 478.9 385.2 479.9 380.8C480.9 376.4 482.0 370.4 483.1 363.3C484.3 356.3 485.6 345.6 486.9 338.4C488.1 331.1 489.4 324.4 490.6 319.6C491.9 314.8 493.2 311.7 494.4 309.6C495.5 307.6 496.6 307.1 497.6 307.1C498.7 307.1 499.6 307.1 500.6 309.6C501.7 312.1 502.8 316.9 503.9 322.1C504.9 327.3 505.9 334.0 506.9 340.9C507.9 347.7 508.8 356.3 509.9 363.3C510.9 370.4 512.0 377.7 513.1 383.3C514.2 388.9 515.4 394.1 516.4 397.0C517.3 399.9 518.0 400.6 518.9 400.8C519.7 401.0 520.4 401.2 521.4 398.3C522.3 395.4 523.4 389.5 524.3 383.3C525.3 377.1 525.9 369.2 526.8 360.8C527.8 352.5 528.8 341.1 529.8 333.4C530.9 325.7 532.1 318.9 533.1 314.6C534.0 310.4 534.8 308.9 535.6 307.9C536.4 306.9 537.0 307.5 538.1 308.4C539.1 309.3 540.6 312.1 541.8 313.4C543.1 314.6 544.3 315.1 545.6 315.9C546.8 316.7 548.2 317.1 549.3 318.4C550.5 319.6 551.6 320.5 552.5 323.4C553.4 326.3 554.2 330.5 555.0 335.9C555.8 341.3 556.6 348.8 557.5 355.8C558.4 362.9 559.4 371.9 560.5 378.3C561.5 384.8 562.7 390.6 563.7 394.5C564.8 398.5 565.9 400.7 567.0 402.0C568.0 403.4 569.0 403.4 570.0 402.8C571.0 402.2 571.9 400.5 573.0 398.3C574.0 396.1 575.1 392.3 576.2 389.5C577.3 386.8 578.4 384.1 579.5 382.1C580.5 380.1 581.4 378.5 582.5 377.6C583.5 376.6 584.7 376.2 585.7 376.6C586.7 376.9 587.7 377.8 588.7 379.6C589.7 381.3 590.9 384.3 591.9 387.0C593.0 389.8 593.9 393.5 594.9 395.8C595.9 398.1 596.9 399.6 597.9 400.8C599.0 401.9 600.1 402.6 601.2 402.8C602.3 403.0 603.4 403.0 604.4 402.0C605.5 401.1 606.3 399.5 607.4 397.0C608.6 394.5 609.9 390.2 611.2 387.0C612.4 383.9 613.7 381.0 614.9 378.3C616.2 375.6 617.4 373.9 618.7 370.8C619.9 367.7 621.2 364.2 622.4 359.6C623.7 355.0 624.9 349.0 626.2 343.4C627.4 337.7 628.7 330.7 629.9 325.9C631.1 321.1 632.5 317.3 633.6 314.6C634.8 311.9 635.9 310.6 636.9 309.6C637.9 308.7 638.9 308.7 639.9 308.9C640.9 309.1 641.8 309.5 642.9 310.9C643.9 312.3 645.0 314.4 646.1 317.1C647.3 319.8 648.6 323.8 649.9 327.1C651.1 330.5 652.4 333.6 653.6 337.1C654.9 340.6 656.1 344.8 657.4 348.3C658.6 351.9 659.9 355.5 661.1 358.3C662.4 361.2 663.6 363.7 664.9 365.3C666.1 367.0 667.4 367.7 668.6 368.3C669.9 368.9 671.1 368.7 672.3 369.1C673.6 369.5 674.8 369.7 676.1 370.8C677.3 371.9 678.6 373.9 679.8 375.8C681.1 377.7 682.3 380.3 683.6 382.1C684.8 383.8 686.1 385.2 687.3 386.3C688.6 387.4 689.8 388.3 691.1 388.8C692.3 389.3 693.6 389.7 694.8 389.5C696.1 389.4 697.3 389.0 698.6 387.8C699.8 386.5 701.1 384.7 702.3 382.1C703.6 379.4 704.8 375.4 706.1 372.1C707.3 368.7 708.6 365.0 709.8 362.1C711.0 359.2 712.3 356.5 713.5 354.6C714.8 352.6 716.0 351.8 717.3 350.3C718.5 348.9 720.1 347.1 721.0 345.9C722.0 344.6 722.2 344.1 723.0 342.9C723.9 341.6 725.5 339.1 726.0 338.4" fill="none" stroke="#ff0000" stroke-width="3.9" stroke-linejoin="round" clip-path="url(#cr)"/>
<path d="M412.5 561.8C413.0 562.7 414.6 565.6 415.7 566.8C416.9 568.1 418.0 569.0 419.5 569.3C420.9 569.7 422.8 568.7 424.5 568.8C426.1 569.0 427.8 569.6 429.5 570.1C431.1 570.6 432.6 571.4 434.5 571.8C436.3 572.2 438.6 572.2 440.7 572.6C442.8 572.9 444.9 573.2 446.9 573.8C449.0 574.4 451.1 575.7 453.2 576.3C455.3 576.9 457.3 577.4 459.4 577.6C461.5 577.8 463.8 577.6 465.7 577.6C467.5 577.6 469.0 577.2 470.7 577.6C472.3 577.9 474.0 579.0 475.7 579.8C477.3 580.6 479.2 581.9 480.7 582.6C482.1 583.2 483.1 583.8 484.4 583.6C485.6 583.4 486.9 583.3 488.1 581.3C489.4 579.4 490.6 575.9 491.9 571.8C493.1 567.7 494.4 561.6 495.6 556.8C496.9 552.1 498.2 546.2 499.4 543.1C500.5 540.0 501.7 539.0 502.6 538.1C503.6 537.2 504.2 537.0 505.1 537.6C506.0 538.2 507.0 539.3 508.1 541.9C509.2 544.4 510.6 549.1 511.9 553.1C513.1 557.1 514.4 561.8 515.6 565.6C516.9 569.3 518.1 572.9 519.4 575.6C520.6 578.2 522.0 580.3 523.1 581.3C524.2 582.4 525.1 582.4 526.1 581.8C527.1 581.3 528.2 580.4 529.3 578.1C530.5 575.8 531.8 571.8 533.1 568.1C534.3 564.3 535.6 559.1 536.8 555.6C538.1 552.1 539.3 549.1 540.6 546.9C541.8 544.7 542.9 543.4 544.3 542.4C545.8 541.3 548.4 540.9 549.3 540.6C550.3 540.3 549.1 540.7 550.0 540.6C550.9 540.5 553.5 540.0 555.0 540.1C556.5 540.2 557.6 540.2 558.7 541.1C559.9 542.0 560.9 543.0 562.0 545.6C563.0 548.2 563.9 552.9 565.0 556.8C566.1 560.8 567.6 565.6 568.7 569.3C569.9 573.1 570.9 577.2 572.0 579.3C573.0 581.4 573.8 581.6 575.0 581.8C576.1 582.0 577.5 581.3 578.7 580.6C580.0 579.8 581.2 578.3 582.5 577.3C583.7 576.4 585.0 575.4 586.2 574.8C587.5 574.2 588.7 574.0 590.0 573.8C591.2 573.7 592.4 573.4 593.7 573.8C594.9 574.2 596.2 575.1 597.4 576.3C598.7 577.6 599.9 579.6 601.2 581.3C602.4 583.1 603.7 585.3 604.9 586.8C606.2 588.3 607.4 589.7 608.7 590.6C609.9 591.4 611.2 591.8 612.4 591.8C613.7 591.8 614.9 591.3 616.2 590.6C617.4 589.8 618.7 588.8 619.9 587.3C621.2 585.8 622.4 583.9 623.7 581.3C624.9 578.7 626.2 575.3 627.4 571.8C628.7 568.4 629.9 564.3 631.1 560.6C632.4 556.8 633.6 552.3 634.9 549.4C636.1 546.4 637.5 544.5 638.6 543.1C639.8 541.7 640.8 541.4 641.9 541.1C642.9 540.8 643.8 540.9 644.9 541.4C646.0 541.8 647.4 543.2 648.6 543.9C649.9 544.6 651.1 544.7 652.4 545.6C653.6 546.5 654.9 547.6 656.1 549.4C657.4 551.1 658.6 554.1 659.9 556.3C661.1 558.6 662.4 561.0 663.6 563.1C664.9 565.2 666.1 567.3 667.4 568.8C668.6 570.4 669.9 571.4 671.1 572.3C672.3 573.2 673.6 573.7 674.8 574.3C676.1 575.0 677.3 575.6 678.6 576.3C679.8 577.1 681.1 578.3 682.3 578.8C683.6 579.3 684.8 579.6 686.1 579.3C687.3 579.1 688.6 578.2 689.8 577.3C691.1 576.5 692.3 575.3 693.6 574.3C694.8 573.3 696.1 572.4 697.3 571.3C698.6 570.3 699.8 569.2 701.1 568.1C702.3 566.9 703.6 565.6 704.8 564.3C706.1 563.1 707.3 561.7 708.6 560.6C709.8 559.5 711.2 558.2 712.3 557.6C713.4 557.0 714.3 556.8 715.3 556.8C716.3 556.8 717.2 557.0 718.5 557.6C719.8 558.2 721.8 559.8 723.0 560.6C724.3 561.4 725.5 562.3 726.0 562.6" fill="none" stroke="#000" stroke-width="3.9" stroke-linejoin="round" clip-path="url(#cr)"/>
<path d="M412.5 563.1C412.9 564.8 414.0 570.3 415.0 573.1C415.9 575.9 417.1 578.4 418.2 579.8C419.4 581.2 420.9 581.3 422.0 581.3C423.1 581.3 423.9 580.1 425.0 579.8C426.0 579.5 427.1 579.0 428.2 579.3C429.4 579.6 430.5 580.9 432.0 581.8C433.4 582.8 435.3 584.4 437.0 585.1C438.6 585.7 440.5 585.7 442.0 585.6C443.4 585.4 444.4 584.4 445.7 584.3C446.9 584.2 448.0 584.4 449.4 584.8C450.9 585.2 452.8 586.4 454.4 586.8C456.1 587.2 457.6 587.5 459.4 587.3C461.3 587.1 463.6 586.1 465.7 585.6C467.8 585.0 469.8 584.3 471.9 583.8C474.0 583.3 476.5 582.9 478.2 582.6C479.8 582.2 480.7 583.2 481.9 581.8C483.1 580.4 484.4 578.1 485.6 574.3C486.9 570.6 488.1 564.8 489.4 559.3C490.6 553.9 491.9 546.6 493.1 541.9C494.4 537.1 495.7 533.1 496.9 530.6C498.0 528.1 499.3 527.5 500.1 526.9C501.0 526.3 501.1 526.3 501.9 526.9C502.7 527.5 503.8 528.1 504.9 530.6C505.9 533.1 507.0 537.3 508.1 541.9C509.3 546.4 510.6 552.9 511.9 558.1C513.1 563.3 514.4 568.9 515.6 573.1C516.9 577.2 518.2 580.8 519.4 583.1C520.5 585.3 521.4 586.3 522.3 586.8C523.3 587.3 523.9 587.6 524.8 586.3C525.8 585.1 527.0 582.8 528.1 579.3C529.2 575.9 530.3 570.6 531.3 565.6C532.4 560.6 533.2 554.8 534.3 549.4C535.5 543.9 536.9 537.3 538.1 533.1C539.2 529.0 540.3 526.5 541.3 524.4C542.4 522.3 543.4 521.3 544.3 520.6C545.2 519.9 545.9 519.9 546.8 520.1C547.7 520.3 548.9 521.0 549.8 521.9C550.8 522.8 551.6 523.1 552.5 525.6C553.4 528.1 554.2 532.5 555.0 536.9C555.8 541.2 556.6 546.2 557.5 551.9C558.4 557.5 559.4 565.0 560.5 570.6C561.5 576.2 562.7 581.8 563.7 585.6C564.8 589.3 565.9 591.3 567.0 593.0C568.1 594.8 569.1 595.5 570.5 596.0C571.8 596.6 573.5 596.5 575.0 596.3C576.5 596.1 578.0 595.7 579.5 595.0C580.9 594.4 582.4 593.5 583.7 592.5C585.0 591.6 586.2 590.1 587.5 589.3C588.7 588.5 590.0 587.6 591.2 587.6C592.4 587.5 593.4 588.0 594.4 588.8C595.5 589.6 596.3 591.2 597.4 592.3C598.6 593.4 599.9 594.9 601.2 595.5C602.4 596.2 603.7 596.3 604.9 596.3C606.2 596.3 607.4 596.3 608.7 595.5C609.9 594.8 611.2 593.5 612.4 591.8C613.7 590.1 614.9 588.1 616.2 585.6C617.4 583.1 618.7 580.1 619.9 576.8C621.2 573.5 622.4 569.5 623.7 565.6C624.9 561.6 626.2 557.1 627.4 553.1C628.7 549.1 629.9 545.0 631.1 541.9C632.4 538.7 633.6 536.2 634.9 534.4C636.1 532.6 637.5 531.8 638.6 531.1C639.8 530.5 640.8 530.4 641.9 530.6C642.9 530.9 643.8 531.2 644.9 532.6C646.0 534.1 647.4 536.8 648.6 539.4C649.9 541.9 651.1 545.4 652.4 548.1C653.6 550.8 654.9 553.5 656.1 555.6C657.4 557.7 658.6 559.2 659.9 560.6C661.1 562.0 662.4 563.0 663.6 563.8C664.9 564.7 666.1 564.9 667.4 565.6C668.6 566.3 669.9 567.4 671.1 568.1C672.3 568.8 673.6 569.4 674.8 569.8C676.1 570.2 677.3 570.5 678.6 570.6C679.8 570.6 681.1 570.4 682.3 570.1C683.6 569.8 684.8 569.2 686.1 568.8C687.3 568.4 688.6 567.9 689.8 567.6C691.1 567.2 692.3 567.0 693.6 566.8C694.8 566.7 695.9 566.8 697.3 566.8C698.8 566.8 700.9 567.0 702.3 566.8C703.8 566.7 704.8 566.3 706.1 566.1C707.3 565.9 708.6 565.6 709.8 565.6C711.0 565.6 712.3 565.7 713.5 566.1C714.8 566.5 715.7 567.1 717.3 568.1C718.9 569.0 721.6 570.9 723.0 571.8C724.5 572.8 725.5 573.5 726.0 573.8" fill="none" stroke="#ff0000" stroke-width="3.9" stroke-linejoin="round" clip-path="url(#cr)"/>
<path d="M412.5 826.6C413.2 826.7 415.4 827.1 417.0 827.3C418.6 827.5 420.3 827.3 422.0 827.8C423.6 828.3 425.3 829.3 427.0 830.3C428.6 831.4 430.1 833.0 432.0 834.1C433.8 835.1 436.1 835.8 438.2 836.6C440.3 837.3 442.4 837.9 444.4 838.6C446.5 839.2 448.8 839.8 450.7 840.3C452.6 840.8 454.0 840.7 455.7 841.6C457.3 842.4 459.2 844.2 460.7 845.3C462.1 846.4 463.3 847.7 464.4 848.3C465.5 848.9 466.4 849.3 467.4 849.1C468.5 848.8 469.5 848.2 470.7 846.6C471.8 844.9 473.2 842.0 474.4 839.1C475.7 836.2 476.9 832.0 478.2 829.1C479.4 826.2 480.7 823.7 481.9 821.6C483.1 819.5 484.4 817.8 485.6 816.6C486.9 815.4 488.3 814.9 489.4 814.6C490.5 814.3 491.3 814.4 492.4 814.8C493.4 815.3 494.5 816.2 495.6 817.3C496.8 818.5 498.1 820.2 499.4 821.6C500.6 823.0 501.9 824.8 503.1 825.8C504.4 826.9 505.4 827.5 506.9 827.8C508.3 828.2 510.4 828.2 511.9 827.8C513.3 827.4 514.4 827.0 515.6 825.3C516.9 823.7 518.1 820.5 519.4 817.8C520.6 815.1 521.9 811.5 523.1 809.1C524.3 806.7 525.3 804.9 526.3 803.6C527.4 802.4 528.4 801.9 529.3 801.6C530.3 801.4 530.9 801.3 531.8 802.1C532.8 802.9 533.8 804.6 534.8 806.6C535.9 808.6 536.9 811.4 538.1 814.1C539.2 816.8 540.6 820.3 541.8 822.8C543.1 825.3 544.2 827.3 545.6 829.1C546.9 830.8 548.6 832.3 550.0 833.3C551.4 834.3 552.5 835.2 553.7 835.1C555.0 835.0 556.2 833.8 557.5 832.8C558.7 831.8 560.0 830.2 561.2 829.1C562.5 827.9 563.7 826.4 565.0 825.8C566.2 825.3 567.5 825.3 568.7 825.8C570.0 826.4 571.2 827.7 572.5 829.1C573.7 830.5 575.0 832.7 576.2 834.1C577.5 835.4 578.7 836.6 580.0 837.3C581.2 838.0 582.5 838.3 583.7 838.3C585.0 838.3 586.0 837.6 587.5 837.3C588.9 837.0 590.8 836.6 592.4 836.6C594.1 836.5 596.0 837.2 597.4 837.1C598.9 836.9 599.9 836.5 601.2 835.8C602.4 835.1 603.7 833.7 604.9 832.8C606.2 832.0 607.2 831.2 608.7 830.8C610.1 830.4 612.0 830.5 613.7 830.3C615.3 830.2 617.0 829.9 618.7 829.8C620.3 829.7 622.2 829.5 623.7 829.8C625.1 830.1 626.2 831.2 627.4 831.6C628.7 832.0 629.9 832.5 631.1 832.3C632.4 832.2 633.4 831.5 634.9 830.8C636.4 830.2 638.2 829.3 639.9 828.6C641.6 827.9 643.2 827.3 644.9 826.6C646.5 825.8 648.2 824.9 649.9 824.1C651.5 823.3 653.2 822.3 654.9 821.6C656.5 820.8 658.2 820.1 659.9 819.6C661.5 819.1 663.2 818.9 664.9 818.6C666.5 818.3 668.4 817.9 669.9 817.8C671.3 817.8 672.3 817.9 673.6 818.3C674.8 818.8 676.1 819.8 677.3 820.3C678.6 820.9 679.8 821.3 681.1 821.6C682.3 821.9 683.6 822.3 684.8 822.3C686.1 822.4 687.3 822.2 688.6 822.1C689.8 822.0 691.1 821.5 692.3 821.6C693.6 821.6 694.8 821.9 696.1 822.3C697.3 822.8 698.6 823.3 699.8 824.1C701.1 824.9 702.3 826.4 703.6 827.3C704.8 828.3 705.8 829.1 707.3 829.8C708.8 830.5 710.6 831.0 712.3 831.6C714.0 832.2 715.5 832.6 717.3 833.3C719.1 834.0 721.6 835.2 723.0 835.8C724.5 836.5 725.5 836.9 726.0 837.1" fill="none" stroke="#ff0000" stroke-width="3.9" stroke-linejoin="round" clip-path="url(#cr)"/>
<path d="M412.5 825.3C413.0 825.0 414.7 823.7 415.7 823.3C416.8 823.0 417.7 822.8 419.0 823.3C420.2 823.9 421.7 825.4 423.2 826.6C424.8 827.7 426.6 829.4 428.2 830.3C429.9 831.3 431.3 832.1 433.2 832.3C435.1 832.5 437.4 832.1 439.5 831.6C441.5 831.0 443.6 830.2 445.7 829.1C447.8 828.0 450.1 825.9 451.9 824.8C453.8 823.8 455.5 823.0 456.9 822.8C458.4 822.7 459.4 823.3 460.7 824.1C461.9 824.9 463.0 826.5 464.4 827.8C465.9 829.2 467.8 831.3 469.4 832.3C471.1 833.4 472.7 834.0 474.4 834.1C476.1 834.2 477.5 833.7 479.4 832.8C481.3 832.0 483.8 830.5 485.6 829.1C487.5 827.6 489.0 825.8 490.6 824.1C492.3 822.4 494.3 820.0 495.6 819.1C497.0 818.1 497.8 817.9 498.9 818.3C499.9 818.8 500.8 819.8 501.9 821.6C503.0 823.4 504.4 826.9 505.6 829.1C506.9 831.2 507.9 833.2 509.4 834.6C510.8 835.9 512.5 836.3 514.4 837.1C516.2 837.8 518.7 838.4 520.6 839.1C522.5 839.7 524.1 840.8 525.6 840.8C527.1 840.8 528.1 840.6 529.3 839.1C530.6 837.5 531.8 834.3 533.1 831.6C534.3 828.9 535.6 825.3 536.8 822.8C538.1 820.4 539.1 818.3 540.6 817.1C542.0 815.8 544.0 815.7 545.6 815.3C547.1 815.0 548.6 814.8 550.0 814.8C551.4 814.8 552.5 815.0 553.7 815.3C555.0 815.7 556.2 816.2 557.5 817.1C558.7 818.0 560.0 819.6 561.2 820.8C562.5 822.1 563.5 823.5 565.0 824.8C566.4 826.2 568.3 827.8 570.0 829.1C571.6 830.3 573.5 831.6 575.0 832.3C576.4 833.0 577.5 833.4 578.7 833.3C580.0 833.2 581.2 832.3 582.5 831.6C583.7 830.9 585.0 829.7 586.2 829.1C587.5 828.5 588.7 827.7 590.0 827.8C591.2 827.9 592.4 828.7 593.7 829.6C594.9 830.5 596.2 832.2 597.4 833.3C598.7 834.5 599.9 835.8 601.2 836.6C602.4 837.3 603.5 837.7 604.9 837.8C606.4 837.9 608.3 837.5 609.9 837.3C611.6 837.1 613.3 836.8 614.9 836.6C616.6 836.3 618.5 836.4 619.9 835.8C621.4 835.2 622.4 834.4 623.7 832.8C624.9 831.3 626.2 828.6 627.4 826.6C628.7 824.6 629.9 822.3 631.1 820.8C632.4 819.4 633.6 818.5 634.9 817.8C636.1 817.2 637.2 817.1 638.6 817.1C640.1 817.1 642.0 817.6 643.6 817.8C645.3 818.1 647.0 818.2 648.6 818.6C650.3 819.0 652.0 819.3 653.6 820.3C655.3 821.3 656.9 823.0 658.6 824.6C660.3 826.2 661.9 828.5 663.6 829.8C665.3 831.2 667.1 832.1 668.6 832.8C670.1 833.5 670.9 833.9 672.3 834.1C673.8 834.2 675.7 833.9 677.3 833.8C679.0 833.7 680.7 833.4 682.3 833.3C684.0 833.3 685.9 833.7 687.3 833.6C688.8 833.4 689.8 833.3 691.1 832.3C692.3 831.4 693.6 829.2 694.8 827.8C696.1 826.5 697.3 825.0 698.6 824.1C699.8 823.2 700.9 822.8 702.3 822.3C703.8 821.8 705.8 821.6 707.3 821.1C708.8 820.5 709.8 819.6 711.0 819.1C712.3 818.6 713.7 817.9 714.8 817.8C715.9 817.8 716.8 818.0 717.8 818.6C718.7 819.2 719.7 820.5 720.5 821.6C721.4 822.7 722.1 824.0 723.0 825.3C723.9 826.7 725.5 829.1 726.0 829.8" fill="none" stroke="#000" stroke-width="3.9" stroke-linejoin="round" clip-path="url(#cr)"/>
<text transform="translate(74.3 37.6) scale(1 0.990)" font-size="15.7" text-anchor="start">90 dB</text>
<text transform="translate(74.3 241.8) scale(1 0.990)" font-size="15.7" text-anchor="start">80 dB</text>
<text transform="translate(74.8 455.8) scale(1 0.990)" font-size="15.7" text-anchor="start">70 dB</text>
<text transform="translate(81.8 720.6) scale(1 0.990)" font-size="15.7" text-anchor="start">80dB</text>
<text transform="translate(416.3 45.1) scale(1 0.990)" font-size="15.7" text-anchor="start">90 dB</text>
<text transform="translate(416.3 241.8) scale(1 0.990)" font-size="15.7" text-anchor="start">80 dB</text>
<text transform="translate(416.3 457.0) scale(1 0.990)" font-size="15.7" text-anchor="start">70 dB</text>
<text transform="translate(423.0 721.0) scale(1 0.990)" font-size="15.7" text-anchor="start">90 dB</text>
<text transform="translate(186.0 204.8) scale(1 0.990)" font-size="15.8" text-anchor="start">*T2</text>
<text transform="translate(284.8 404.6) scale(1 0.990)" font-size="15.8" text-anchor="start">*V4</text>
<text transform="translate(198.5 876.2) scale(1 0.990)" font-size="15.8" text-anchor="start">*V2</text>
<text transform="translate(523.0 205.3) scale(1 0.990)" font-size="15.8" text-anchor="start">*T2</text>
<text transform="translate(519.8 415.3) scale(1 0.990)" font-size="15.8" text-anchor="start">*T2-V2</text>
<text transform="translate(519.8 618.8) scale(1 0.990)" font-size="15.8" text-anchor="start">*T2-V2</text>
<text transform="translate(514.8 876.5) scale(1 0.990)" font-size="15.8" text-anchor="start">**T2</text>
<text transform="translate(200.7 28.1) scale(1 1.030)" font-size="18.3" font-weight="bold" text-anchor="start">7 kHz</text>
<text transform="translate(535.4 28.3) scale(1 1.030)" font-size="18.3" font-weight="bold" text-anchor="start">16 kHz</text>
<text transform="translate(388.0 22.9) scale(1 1.030)" font-size="21.3" font-weight="bold" text-anchor="start">P32</text>
<text transform="translate(382.2 692.9) scale(1 1.000)" font-size="22.1" font-weight="bold" text-anchor="start">P112</text>
<text transform="translate(195.3 720.3) scale(1 0.990)" font-size="18.9" text-anchor="start">16 kHz</text>
<text transform="translate(534.2 720.3) scale(1 0.990)" font-size="19.2" text-anchor="start">32 kHz</text>
<text transform="translate(191.3 671.9) scale(1 1.030)" font-size="15.2" font-weight="bold" text-anchor="start">Time (ms)</text>
<text transform="translate(529.8 671.9) scale(1 1.030)" font-size="15.2" font-weight="bold" text-anchor="start">Time (ms)</text>
<text transform="translate(191.3 935.0) scale(1 1.030)" font-size="15.2" font-weight="bold" text-anchor="start">Time (ms)</text>
<text transform="translate(531.4 935.4) scale(1 1.030)" font-size="15.2" font-weight="bold" text-anchor="start">Time (ms)</text>
<text transform="translate(19.3 375.4) rotate(-90) scale(1 0.96)" font-size="15.9" font-weight="bold">Amplitude (<tspan font-weight="normal" font-family="Liberation Serif,serif">µ</tspan>V)</text>
<text transform="translate(26.9 843.8) rotate(-90) scale(1 0.96)" font-size="15.9" font-weight="bold">Amplitude (<tspan font-weight="normal" font-family="Liberation Serif,serif">µ</tspan>V)</text>
<path d="M578.6 852.3H626.5" stroke="#000" stroke-width="3.8" stroke-linecap="round" fill="none"/>
<path d="M578.6 876.1H626.5" stroke="#ff0000" stroke-width="3.8" stroke-linecap="round" fill="none"/>
<text transform="translate(632.2 859.2) scale(1 0.990)" font-size="19.1" text-anchor="start">CONTROL</text>
<text transform="translate(637.7 882.9) scale(1 0.990)" font-size="18.9" text-anchor="start">AAE</text>
</svg></body></html>
